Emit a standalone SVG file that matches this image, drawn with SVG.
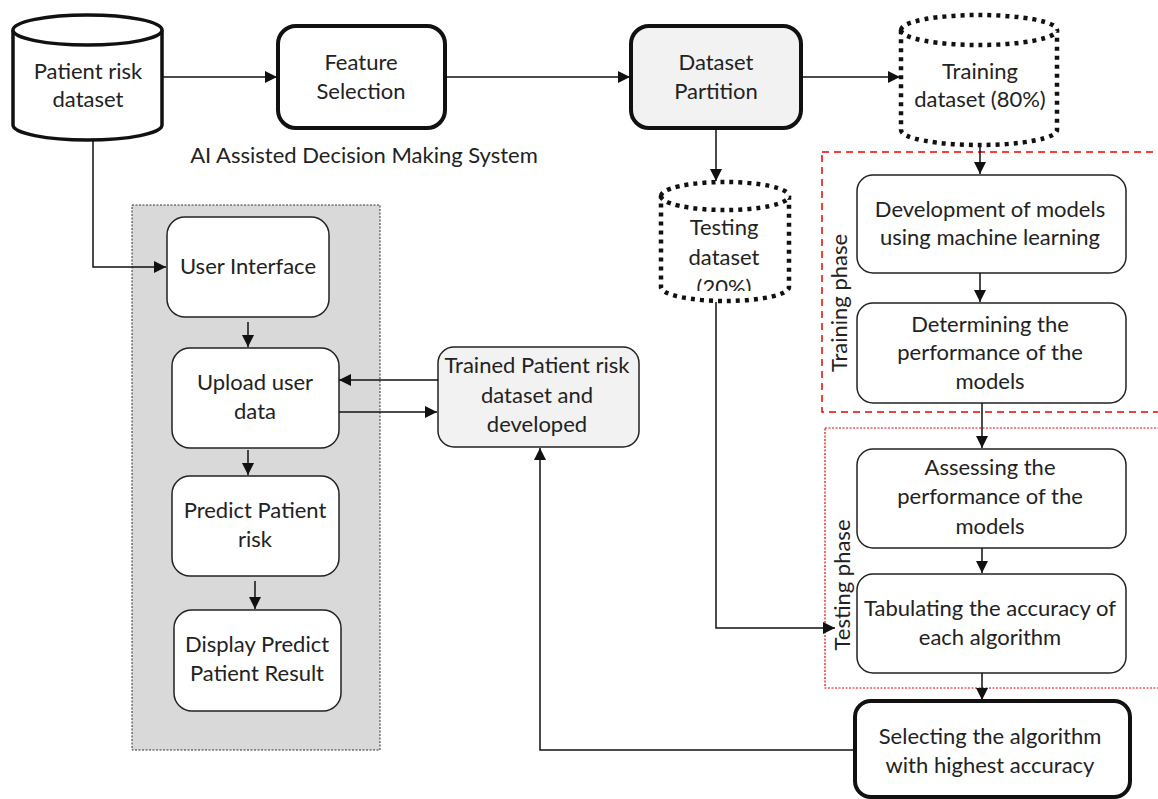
<svg xmlns="http://www.w3.org/2000/svg" width="1158" height="799" viewBox="0 0 1158 799">
<style>
text{font-family:Lato,"Liberation Sans",sans-serif;font-size:22px;fill:#222;text-anchor:middle}
.box{fill:#fff;stroke:#222;stroke-width:1.5}
.thick{fill:#fff;stroke:#111;stroke-width:4}
.grey{fill:#f2f2f2}
.cyl{fill:#fff;stroke:#111;stroke-width:3.5}
.dot{fill:#fff;stroke:#111;stroke-width:4.5;stroke-dasharray:4 5}
.con{fill:none;stroke:#111;stroke-width:1.5;marker-end:url(#ah)}
</style>
<defs>
<marker id="ah" viewBox="0 0 10 10" refX="10" refY="5" markerWidth="13" markerHeight="12" markerUnits="userSpaceOnUse" orient="auto"><path d="M0,0 L10,5 L0,10 Z" fill="#111"/></marker>
<clipPath id="tc"><rect x="650" y="170" width="150" height="121"/></clipPath>
</defs>
<rect width="1158" height="799" fill="#fff"/>

<g id="system-panel">
<rect x="132" y="205" width="248" height="545" fill="#d9d9d9" stroke="#333" stroke-width="1" stroke-dasharray="2 1.5"/>
</g>
<g id="training-phase">
<rect x="822" y="152" width="345" height="260" fill="none" stroke="#e00" stroke-width="1.5" stroke-dasharray="7 5"/>
<text transform="translate(847,303) rotate(-90)">Training phase</text>
</g>
<g id="testing-phase">
<rect x="825" y="428" width="345" height="260" fill="none" stroke="#e00" stroke-width="1.2" stroke-dasharray="2 1.5"/>
<text transform="translate(850,585) rotate(-90)">Testing phase</text>
</g>

<g id="patient-risk-dataset">
<path class="cyl" d="M13,30 A74.5,15 0 0 1 162,30 L162,125 A74.5,15 0 0 1 13,125 Z"/>
<path class="cyl" fill="none" d="M13,30 A74.5,15 0 0 0 162,30"/>
<text x="88" y="79">Patient risk</text>
<text x="88" y="107">dataset</text>
</g>
<g id="feature-selection">
<rect class="thick" x="278" y="26" width="167" height="102" rx="18"/>
<text x="361" y="70">Feature</text>
<text x="361" y="99">Selection</text>
</g>
<text id="system-title" x="364" y="163">AI Assisted Decision Making System</text>
<g id="dataset-partition">
<rect class="thick grey" x="631" y="26" width="170" height="102" rx="18"/>
<text x="716" y="70">Dataset</text>
<text x="716" y="99">Partition</text>
</g>
<g id="training-dataset">
<path class="dot" d="M901,30 A78,15 0 0 1 1057,30 L1057,130 A78,15 0 0 1 901,130 Z"/>
<path class="dot" fill="none" d="M901,30 A78,15 0 0 0 1057,30"/>
<text x="980" y="79">Training</text>
<text x="980" y="107">dataset (80%)</text>
</g>
<g id="testing-dataset">
<path class="dot" d="M661,196 A64,14 0 0 1 789,196 L789,287 A64,14 0 0 1 661,287 Z"/>
<path class="dot" fill="none" d="M661,196 A64,14 0 0 0 789,196"/>
<text x="724" y="235">Testing</text>
<text x="724" y="265">dataset</text>
<text x="724" y="295" clip-path="url(#tc)">(20%)</text>
</g>
<g id="development-models">
<rect class="box" x="857" y="175" width="269" height="98" rx="16"/>
<text x="990" y="217">Development of models</text>
<text x="990" y="245">using machine learning</text>
</g>
<g id="determining-performance">
<rect class="box" x="857" y="303" width="269" height="100" rx="16"/>
<text x="990" y="332">Determining the</text>
<text x="990" y="360">performance of the</text>
<text x="990" y="389">models</text>
</g>
<g id="assessing-performance">
<rect class="box" x="857" y="449" width="269" height="99" rx="16"/>
<text x="990" y="475">Assessing the</text>
<text x="990" y="504">performance of the</text>
<text x="990" y="534">models</text>
</g>
<g id="tabulating-accuracy">
<rect class="box" x="857" y="574" width="269" height="99" rx="16"/>
<text x="990" y="616">Tabulating  the accuracy  of</text>
<text x="990" y="645">each algorithm</text>
</g>
<g id="selecting-algorithm">
<rect class="thick" x="855" y="701" width="275" height="96" rx="16"/>
<text x="990" y="744">Selecting the algorithm</text>
<text x="990" y="773">with highest accuracy</text>
</g>
<g id="trained-dataset">
<rect class="box grey" x="438" y="347" width="201" height="100" rx="16"/>
<text x="537" y="373">Trained  Patient risk</text>
<text x="537" y="403">dataset and</text>
<text x="537" y="432">developed</text>
</g>
<g id="user-interface">
<rect class="box" x="167" y="217" width="162" height="100" rx="18"/>
<text x="248" y="274">User Interface</text>
</g>
<g id="upload-user-data">
<rect class="box" x="172" y="348" width="167" height="100" rx="18"/>
<text x="255" y="390">Upload user</text>
<text x="255" y="419">data</text>
</g>
<g id="predict-risk">
<rect class="box" x="172" y="476" width="167" height="100" rx="18"/>
<text x="255" y="518">Predict Patient</text>
<text x="255" y="547">risk</text>
</g>
<g id="display-result">
<rect class="box" x="174" y="610" width="167" height="101" rx="18"/>
<text x="257" y="652">Display Predict</text>
<text x="257" y="681">Patient Result</text>
</g>

<g id="connectors">
<path class="con" d="M162,77 H277"/>
<path class="con" d="M445,77 H630"/>
<path class="con" d="M801,77 H900"/>
<path class="con" d="M716,128 V181"/>
<path class="con" d="M980,146 V174"/>
<path class="con" d="M980,273 V302"/>
<path class="con" d="M982,403 V448"/>
<path class="con" d="M982,548 V573"/>
<path class="con" d="M982,673 V700"/>
<path class="con" d="M716,302 V628 H835"/>
<path class="con" d="M855,750 H540 V448"/>
<path class="con" d="M93,140 V267 H166"/>
<path class="con" d="M248,322 V347"/>
<path class="con" d="M248,450 V475"/>
<path class="con" d="M255,581 V609"/>
<path class="con" d="M438,380 H339"/>
<path class="con" d="M339,412 H437"/>
</g>
</svg>
